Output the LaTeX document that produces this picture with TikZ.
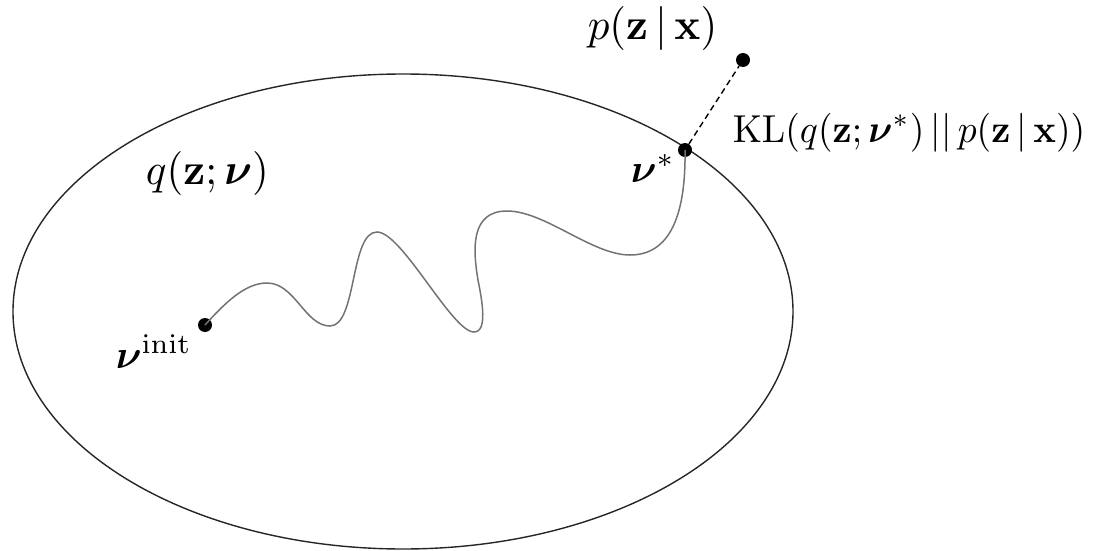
\documentclass[tikz,border=0pt]{standalone}
\usepackage{amsmath,bm}
\begin{document}
\begin{tikzpicture}[x=1pt,y=-1pt,
  dotnode/.style={circle,fill=black,inner sep=0pt,minimum size=14pt},
  lbl/.style={inner sep=0pt,font=\normalsize},
  bigfont/.style={xscale=4.3,yscale=4.4,transform shape},
  midfont/.style={xscale=3.75,yscale=3.9,transform shape},
  labelfont/.style={scale=4,transform shape},
  path line/.style={draw=black!55,line width=1.5pt},
  rim/.style={draw=black!85,line width=1.4pt},
  kl line/.style={draw=black,line width=1.4pt,dash pattern=on 6pt off 4pt}]
\useasboundingbox (0,0) rectangle (1093,551);
\draw[rim] (403,311.5) ellipse [x radius=390, y radius=237.5];
% points
\node[dotnode] (init) at (205,325) {};
\node[dotnode] (opt) at (685,150) {};
\node[dotnode] (post) at (743,60) {};
% wiggly path
\draw[path line] (init.center)
  .. controls (225,303) and (245,283) .. (267,283)
  .. controls (295,283) and (305,326) .. (330,326)
  .. controls (357,326) and (350,232) .. (377,232)
  .. controls (402,232) and (452,332) .. (474,332)
  .. controls (488,332) and (482,300) .. (478,280)
  .. controls (473,250) and (470,211) .. (507,211)
  .. controls (545,211) and (592,255) .. (630,255)
  .. controls (670,255) and (686,215) .. (opt.center);
\draw[kl line] (opt) -- (post);
% labels
\node[lbl,bigfont,anchor=base west] (plbl) at (587,40) {$p(\mathbf{z}\,|\,\mathbf{x})$};
\node[lbl,midfont,anchor=base west] (kllbl) at (732,142) {$\mathrm{KL}(q(\mathbf{z};\bm{\nu}^*)\,||\,p(\mathbf{z}\,|\,\mathbf{x}))$};
\node[lbl,bigfont,anchor=base west] (qlbl) at (145,184) {$q(\mathbf{z};\bm{\nu})$};
\node[lbl,labelfont,anchor=base west] (initlbl) at (115,368) {$\bm{\nu}^{\mathrm{init}}$};
\node[lbl,labelfont,anchor=base west] (optlbl) at (630,182) {$\bm{\nu}^*$};
\end{tikzpicture}
\end{document}
